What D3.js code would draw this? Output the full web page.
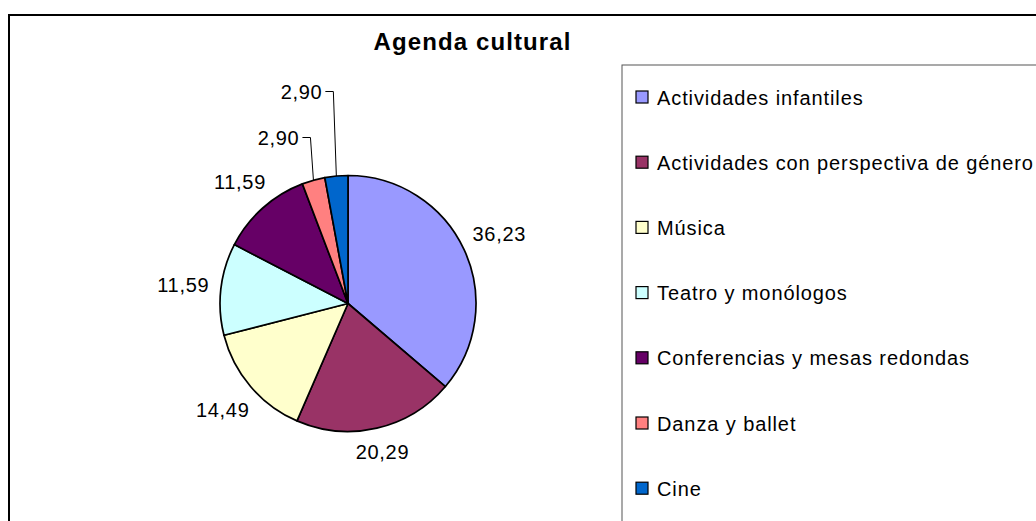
<!DOCTYPE html>
<html lang="es">
<head>
<meta charset="utf-8">
<title>Agenda cultural</title>
<script src="https://d3js.org/d3.v7.min.js"></script>
<style>
  body { margin: 0; background: #fff; }
  text { font-family: Arial, "Liberation Sans", sans-serif; fill: #000; }
</style>
</head>
<body>
<div class="chart"></div>
<script>
// data
const categories = [
  "Actividades infantiles",
  "Actividades con perspectiva de género",
  "Música",
  "Teatro y monólogos",
  "Conferencias y mesas redondas",
  "Danza y ballet",
  "Cine"
];
const values = [36.23, 20.29, 14.49, 11.59, 11.59, 2.90, 2.90];
const colors = ["#9999FF", "#993366", "#FFFFCC", "#CCFFFF", "#660066", "#FF8080", "#0066CC"];

const width = 1036, height = 521;
const cx = 348, cy = 303.5, r = 128;

const svg = d3.select(".chart").append("svg")
  .attr("width", width)
  .attr("height", height);

// outer chart frame (runs off right / bottom like the original)
svg.append("rect")
  .attr("x", 9).attr("y", 15)
  .attr("width", 1200).attr("height", 700)
  .attr("fill", "#fff")
  .attr("stroke", "#000")
  .attr("stroke-width", 2);

svg.append("text")
  .attr("x", 472.5).attr("y", 50)
  .attr("text-anchor", "middle")
  .attr("font-size", 24)
  .attr("font-weight", "bold")
  .attr("letter-spacing", 1.1)
  .text("Agenda cultural");

const locale = d3.formatLocale({decimal: ",", thousands: ".", grouping: [3], currency: ["", "€"]});
const fmt = locale.format(".2f");

const pie = d3.pie().sort(null).value(d => d);
const arcs = pie(values);
const arc = d3.arc().innerRadius(0).outerRadius(r);

const g = svg.append("g").attr("transform", `translate(${cx},${cy})`);

g.selectAll("path.slice")
  .data(arcs)
  .enter()
  .append("path")
  .attr("class", "slice")
  .attr("d", arc)
  .attr("fill", (d, i) => colors[i])
  .attr("stroke", "#000")
  .attr("stroke-width", 1.7)
  .attr("stroke-linejoin", "round");

// data labels
const small = arcs.filter(d => d.value < 5);
arcs.forEach((d, i) => {
  const a = (d.startAngle + d.endAngle) / 2;
  const s = Math.sin(a), c = Math.cos(a);
  const t = g.append("text")
    .attr("font-size", 20)
    .attr("letter-spacing", 0.7)
    .attr("dominant-baseline", "central")
    .text(fmt(d.value));

  if (d.value >= 5) {
    const w = t.node().getComputedTextLength();
    const dist = r + 11 + Math.abs(s) * w / 2 + Math.abs(c) * 8;
    t.attr("text-anchor", "middle")
      .attr("x", dist * s)
      .attr("y", -dist * c);
  } else {
    // small slices: label lifted above the pie with a leader line
    const j = small.indexOf(d);
    const px = r * s, py = -r * c;
    const ex = px - 3;
    const ey = -r - 38 - 46 * j;
    g.append("polyline")
      .attr("points", [[px, py], [ex, ey], [ex - 8, ey]].map(p => p.join(",")).join(" "))
      .attr("fill", "none")
      .attr("stroke", "#000")
      .attr("stroke-width", 1);
    t.attr("text-anchor", "end")
      .attr("x", ex - 11)
      .attr("y", ey);
  }
});

// legend
const legend = svg.append("g");
legend.append("rect")
  .attr("x", 622).attr("y", 65)
  .attr("width", 600).attr("height", 600)
  .attr("fill", "#fff")
  .attr("stroke", "#555")
  .attr("stroke-width", 1);

const rowY = d3.scaleLinear().domain([0, 1]).range([91, 156.2]);

const items = legend.selectAll("g.item")
  .data(categories)
  .enter()
  .append("g")
  .attr("class", "item")
  .attr("transform", (d, i) => `translate(636,${rowY(i)})`);

items.append("rect")
  .attr("x", 0).attr("y", 0)
  .attr("width", 12).attr("height", 12)
  .attr("fill", (d, i) => colors[i])
  .attr("stroke", "#000")
  .attr("stroke-width", 1.2);

items.append("text")
  .attr("x", 21).attr("y", 6.5)
  .attr("dominant-baseline", "central")
  .attr("font-size", 20)
  .attr("letter-spacing", 0.9)
  .text(d => d);
</script>
</body>
</html>
